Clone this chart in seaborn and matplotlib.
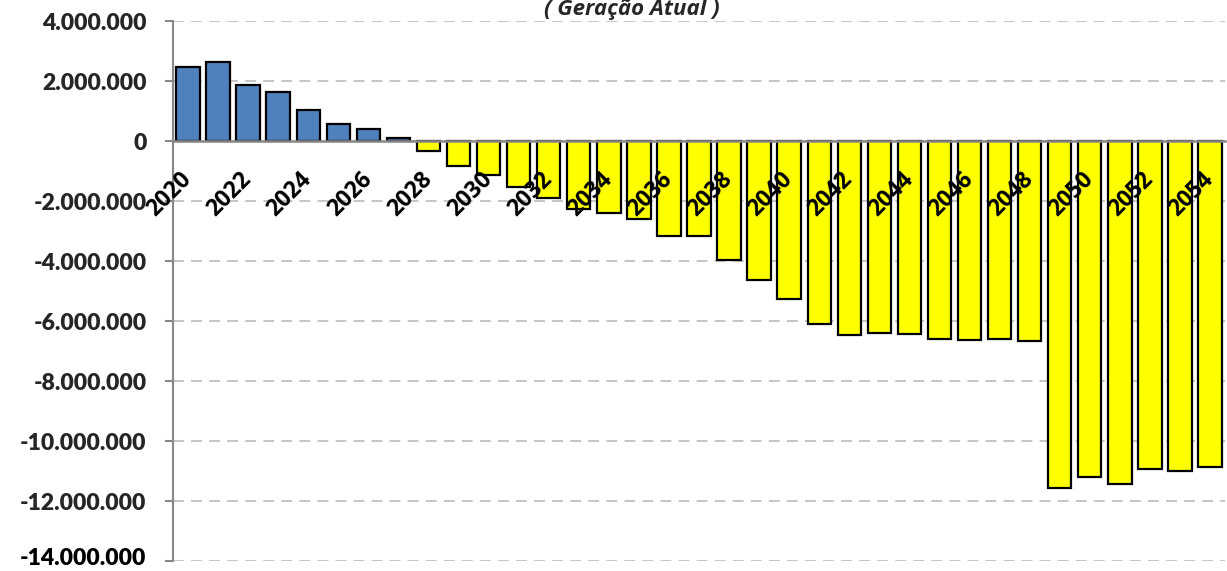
import matplotlib
matplotlib.use("Agg")
import matplotlib.pyplot as plt
import matplotlib.ticker as mticker
import numpy as np
import pandas as pd
import seaborn as sns

# ---- data ----
anos = list(range(2020, 2055))
valores_mi = [2.48, 2.62, 1.86, 1.63, 1.04, 0.57, 0.40, 0.10,
              -0.34, -0.82, -1.14, -1.53, -1.91, -2.28, -2.41, -2.59,
              -3.16, -3.15, -3.98, -4.64, -5.27, -6.10, -6.45, -6.40,
              -6.44, -6.59, -6.64, -6.61, -6.66, -11.57, -11.21, -11.42,
              -10.93, -11.00, -10.88]
valores = [v * 1_000_000 for v in valores_mi]
y_ticks = list(range(-14_000_000, 4_000_001, 2_000_000))
titulo = "( Geração Atual )"

df = pd.DataFrame({
    "ano": [str(a) for a in anos],
    "valor": valores,
    "grupo": ["pos" if v >= 0 else "neg" for v in valores],
})

sns.set_theme(style="white")
plt.rcParams["font.family"] = ["Lato", "DejaVu Sans"]

fig = plt.figure(figsize=(12.27, 5.71), dpi=100)
ax = fig.add_axes([173 / 1227, 1 - 561 / 571, (1225 - 173) / 1227, 540 / 571])

sns.barplot(data=df, x="ano", y="valor", hue="grupo",
            palette={"pos": "#4F81BD", "neg": "#FFFF00"}, saturation=1,
            dodge=False, width=0.78, edgecolor="black", linewidth=1.6,
            legend=False, ax=ax)

ax.set_xlim(-0.5, len(anos) - 0.5)
ax.set_ylim(-14_000_000, 4_000_000)
ax.set_yticks(y_ticks)


def fmt(v):
    return f"{int(round(v)):,}".replace(",", ".")


# lowest label is drawn separately (nudged up so it stays inside the figure)
ax.yaxis.set_major_formatter(
    mticker.FuncFormatter(lambda v, p: "" if v <= y_ticks[0] else fmt(v)))

# grid
ax.yaxis.grid(True, color="#c0c0c0", linestyle=(0, (6, 4)), linewidth=1.3)
ax.xaxis.grid(False)
ax.set_axisbelow(True)

# spines
for s in ["top", "right"]:
    ax.spines[s].set_visible(False)
ax.spines["left"].set_color("#888888")
ax.spines["left"].set_linewidth(1.5)
ax.spines["bottom"].set_color("#888888")
ax.spines["bottom"].set_linewidth(1.8)
ax.spines["bottom"].set_position(("data", 0))
ax.spines["bottom"].set_zorder(4)
ax.xaxis.set_zorder(5)

# x ticks: labels every other year at centers, tick marks at boundaries
pos = np.arange(len(anos))
ax.set_xticks(pos[::2])
ax.set_xticklabels([str(a) for a in anos][::2], rotation=45, ha="right",
                   va="center", rotation_mode="anchor",
                   fontsize=16.5, fontweight="bold", family=["Open Sans", "DejaVu Sans"])
ax.tick_params(axis="x", which="major", length=0, pad=25, colors="black")
ax.set_xticks(np.arange(-0.5, len(anos) + 0.5, 1), minor=True)
ax.tick_params(axis="x", which="minor", length=5, width=1.2, color="#888888",
               direction="out")

ax.tick_params(axis="y", length=6, width=1.5, color="#888888", direction="out",
               pad=13, left=True)
for lbl in ax.get_yticklabels():
    lbl.set_fontsize(16.5)
    lbl.set_fontweight("heavy")
    lbl.set_va("center_baseline")

ax.annotate(fmt(y_ticks[0]), xy=(0, y_ticks[0]),
            xycoords=ax.get_yaxis_transform(),
            xytext=(-(6 + 13), 3), textcoords="offset points",
            ha="right", va="center_baseline",
            fontsize=16.5, fontweight="heavy", color="black",
            annotation_clip=False)

ax.set_xlabel("")
ax.set_ylabel("")

fig.text(632 / 1227, 1 - 15 / 571, titulo, ha="center", va="baseline",
         fontsize=16, fontweight="bold", fontstyle="italic",
         family=["Open Sans", "DejaVu Sans"])

fig.savefig("out.png", dpi=100)
